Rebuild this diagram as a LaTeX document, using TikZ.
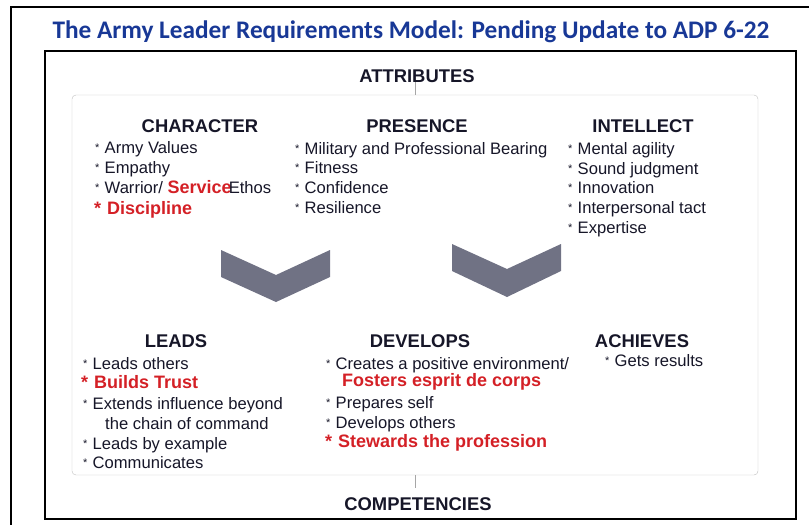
\documentclass[tikz,border=0pt]{standalone}
\usepackage{fontspec}
\setmainfont{Liberation Sans}
\newfontfamily\titlefont{Carlito}

\definecolor{titleblue}{RGB}{24,56,150}
\definecolor{alrred}{RGB}{212,32,38}
\definecolor{chevgray}{RGB}{112,114,132}
\definecolor{inktext}{RGB}{22,22,40}

\newcommand{\bul}{\makebox[9.5pt][l]{\fontsize{11}{11}\selectfont\raisebox{1.5pt}{*}}}
\newcommand{\redbul}{\makebox[13pt][l]{*}}

\begin{document}
\begin{tikzpicture}[x=1pt,y=-1pt,
  every node/.style={inner sep=0pt, text=inktext},
  heading/.style={font=\fontsize{18.4}{20}\selectfont\bfseries, anchor=base},
  item/.style={font=\fontsize{16.6}{20}\selectfont, anchor=base west},
  reditem/.style={font=\fontsize{18}{20}\selectfont\bfseries, text=alrred, anchor=base west},
  chevron/.style={fill=chevgray, draw=none}]

\useasboundingbox (0,0) rectangle (809,525);

% frames
\draw[line width=2pt] (11,530) -- (11,7) -- (812,7);
\draw[line width=2.5pt] (45,51) rectangle (796,519);
\node[draw=black!25, rounded corners=4pt, minimum width=686pt, minimum height=380pt] (panel) at (415,285) {};

\node[font=\titlefont\fontsize{25.3}{28}\selectfont\bfseries, text=titleblue, anchor=base] (title) at (411,38)
  {The Army Leader Requirements Model: Pending Update to ADP 6-22};

\node[heading] (attr) at (417,82) {ATTRIBUTES};
\node[heading] (comp) at (418,510) {COMPETENCIES};
\draw[black!35] (attr.south -| panel.north) -- (panel.north);
\draw[black!35] (panel.south) -- ++(0,13);

% attributes
\node[heading] (character) at (200,132) {CHARACTER};
\node[item] (c1) at (95,153) {\bul Army Values};
\node[item] (c2) at (95,173) {\bul Empathy};
\node[item] (c3) at (95,193) {\bul Warrior/ \textcolor{alrred}{\fontsize{18}{20}\selectfont\bfseries Service}\hspace{-3pt}Ethos};
\node[reditem] (c4) at (94,214) {\redbul Discipline};

\node[heading] (presence) at (417,132) {PRESENCE};
\node[item] (p1) at (295,154) {\bul Military and Professional Bearing};
\node[item] (p2) at (295,173) {\bul Fitness};
\node[item] (p3) at (295,193) {\bul Confidence};
\node[item] (p4) at (295,213) {\bul Resilience};

\node[heading] (intellect) at (643,132) {INTELLECT};
\node[item] (i1) at (568,154) {\bul Mental agility};
\node[item] (i2) at (568,174) {\bul Sound judgment};
\node[item] (i3) at (568,193) {\bul Innovation};
\node[item] (i4) at (568,213) {\bul Interpersonal tact};
\node[item] (i5) at (568,233) {\bul Expertise};

% chevrons
\fill[chevron] (221,250) -- (276,275) -- (330,250) -- (330,277) -- (276,302) -- (221,277) -- cycle;
\fill[chevron] (452,244) -- (507,269) -- (561,244) -- (561,271) -- (507,297) -- (452,271) -- cycle;

% competencies
\node[heading] (leads) at (176,347) {LEADS};
\node[item] (l1) at (83,369) {\bul Leads others};
\node[reditem] (l2) at (81,388) {\redbul Builds Trust};
\node[item] (l3) at (83,409) {\bul Extends influence beyond};
\node[item] (l3b) at (105,429) {the chain of command};
\node[item] (l4) at (83,449) {\bul Leads by example};
\node[item] (l5) at (83,468) {\bul Communicates};

\node[heading] (develops) at (420,347) {DEVELOPS};
\node[item] (d1) at (326,369) {\bul Creates a positive environment/};
\node[reditem] (d1b) at (342,386) {Fosters esprit de corps};
\node[item] (d2) at (326,408) {\bul Prepares self};
\node[item] (d3) at (326,428) {\bul Develops others};
\node[reditem] (d4) at (325,447) {\redbul Stewards the profession};

\node[heading] (achieves) at (642,347) {ACHIEVES};
\node[item] (a1) at (605,366) {\bul Gets results};

\end{tikzpicture}
\end{document}
